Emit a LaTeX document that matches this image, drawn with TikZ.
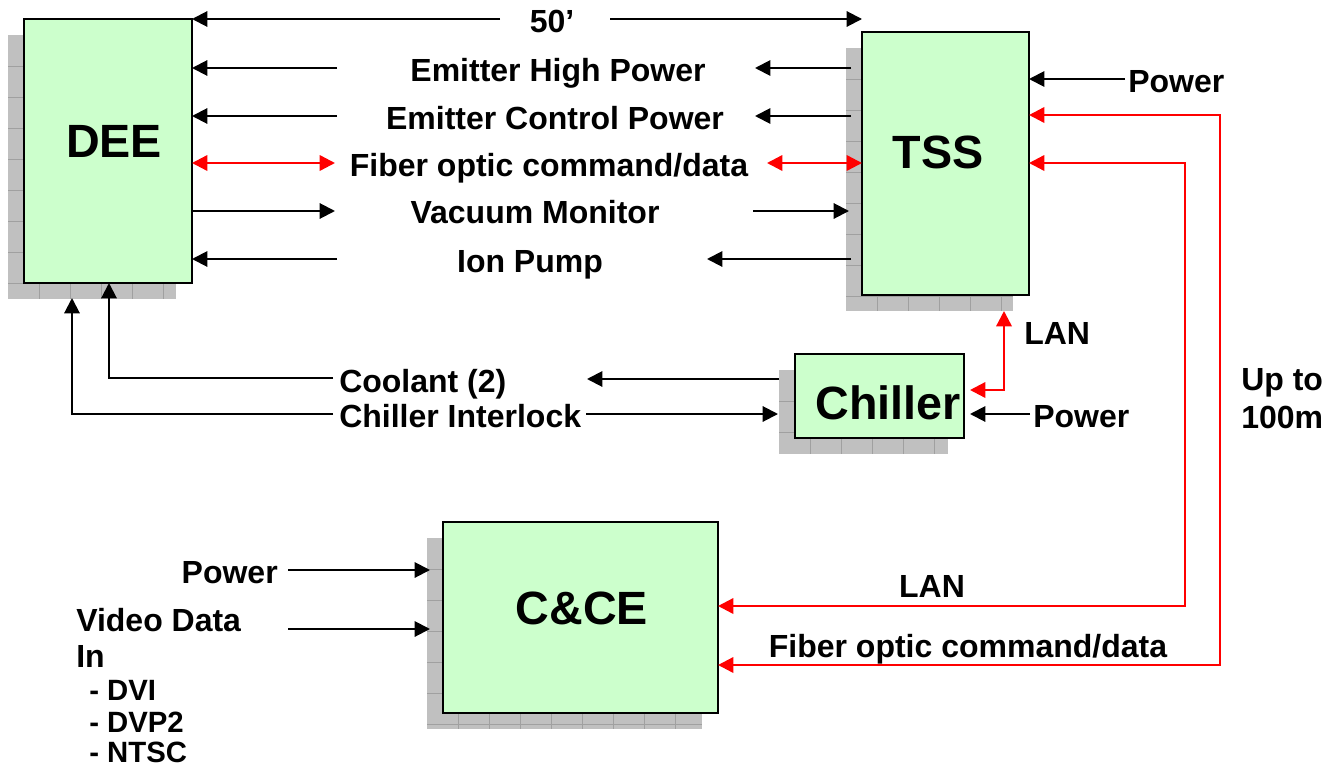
\documentclass[tikz,border=0pt]{standalone}
\usepackage{fontspec}
\setmainfont{Liberation Sans}
\usetikzlibrary{arrows.meta,fit,calc}
\definecolor{boxgreen}{HTML}{CCFFCC}
\definecolor{shadowgray}{HTML}{C0C0C0}
\definecolor{gridgray}{HTML}{A0A0A0}
\definecolor{linered}{HTML}{FF0000}
\tikzset{
  box/.style={rectangle, draw=black, line width=1.6pt, fill=boxgreen, inner sep=0pt, outer sep=0pt},
  gridline/.style={draw=gridgray, line width=0.7pt},
  arr/.style={draw=black, line width=1.5pt, -{Triangle[length=11.5pt,width=11.5pt]}},
  rarr/.style={draw=linered, line width=1.8pt, {Triangle[length=11.5pt,width=11.5pt]}-{Triangle[length=11.5pt,width=11.5pt]}},
  lbl/.style={font=\fontsize{24}{28}\selectfont\bfseries, inner sep=0pt},
  sml/.style={font=\fontsize{22}{26}\selectfont\bfseries, inner sep=0pt},
  big/.style={font=\fontsize{35}{40}\selectfont\bfseries, inner sep=0pt}
}
\newcommand{\mkshadow}[4]{%
  \begin{scope}
    \clip (#1,#2) rectangle (#3,#4);
    \fill[shadowgray] (#1,#2) rectangle (#3,#4);
    \foreach \k in {1,...,12}{%
      \draw[gridline] ({#1+31*\k},#2) -- ({#1+31*\k},#4);
      \draw[gridline] (#1,{#2+31*\k}) -- (#3,{#2+31*\k});
    }
  \end{scope}}
\begin{document}
\begin{tikzpicture}[x=0.75pt,y=-0.75pt]
\useasboundingbox (0,0) rectangle (1337,767);

% shadows
\mkshadow{8}{35}{176}{299}
\mkshadow{846}{48}{1013}{311}
\mkshadow{779}{370}{948}{454}
\mkshadow{427}{538}{702}{729}

% boxes
\node[box, fit={(24,19)(192,283)}] (dee) {};
\node[box, fit={(862,32)(1029,295)}] (tss) {};
\node[box, fit={(795,354)(964,438)}] (chiller) {};
\node[box, fit={(443,522)(718,713)}] (cce) {};

% box labels
\node[big, anchor=base] (deeL) at (114,157) {DEE};
\node[big, anchor=base] (tssL) at (938,168) {TSS};
\node[big, anchor=base] (chL) at (888,419) {Chiller};
\node[big, anchor=base] (cceL) at (582,624) {C\&CE};

% other labels
\node[lbl, anchor=base] (l50) at (552,33) {50’};
\node[lbl, anchor=base] (lehp) at (558,81) {Emitter High Power};
\node[lbl, anchor=base] (lecp) at (555,129) {Emitter Control Power};
\node[lbl, anchor=base] (lfo) at (549,176) {Fiber optic command/data};
\node[lbl, anchor=base] (lvm) at (535,223) {Vacuum Monitor};
\node[lbl, anchor=base] (lip) at (530,272) {Ion Pump};
\node[lbl, anchor=base west] (ltp) at (1128,93) {Power};
\node[lbl, anchor=base west] (llan1) at (1024,344) {LAN};
\node[lbl, anchor=base west] (lup) at (1241,390) {Up to};
\node[lbl, anchor=base west] (l100) at (1241,428) {100m};
\node[lbl, anchor=base west] (lcp) at (1033,427) {Power};
\node[lbl, anchor=base west] (lcool) at (339,392) {Coolant (2)};
\node[lbl, anchor=base west] (lci) at (339,427) {Chiller Interlock};
\node[lbl, anchor=base east] (lccp) at (278,583) {Power};
\node[lbl, anchor=base west] (lvd) at (76,631) {Video Data};
\node[lbl, anchor=base west] (lin) at (76,667) {In};
\node[sml, anchor=base west] (ldvi) at (89,700) {- DVI};
\node[sml, anchor=base west] (ldvp) at (89,732) {- DVP2};
\node[sml, anchor=base west] (lntsc) at (89,762) {- NTSC};
\node[lbl, anchor=base] (llan2) at (932,597) {LAN};
\node[lbl, anchor=base] (lfo2) at (968,657) {Fiber optic command/data};

% 50' dimension arrow
\coordinate (a50l) at (500,19);
\coordinate (a50r) at (610,19);
\draw[arr] (a50l) -- (dee.north east);
\draw[arr] (a50r) -- (tss.west |- a50r);

% DEE side
\coordinate (e1) at (337,68);
\coordinate (e2) at (337,116);
\coordinate (e3) at (335,163);
\coordinate (e4) at (335,211);
\coordinate (e5) at (337,259);
\draw[arr] (e1) -- (dee.east |- e1);
\draw[arr] (e2) -- (dee.east |- e2);
\draw[rarr] (dee.east |- e3) -- (e3);
\draw[arr] (dee.east |- e4) -- (e4);
\draw[arr] (e5) -- (dee.east |- e5);

% TSS side
\coordinate (g1) at (755,68);
\coordinate (g2) at (755,116);
\coordinate (g3) at (767,163);
\coordinate (g4) at (753,211);
\coordinate (g5) at (707,259);
\draw[arr, shorten <=8.25pt] (tss.west |- g1) -- (g1);
\draw[arr, shorten <=8.25pt] (tss.west |- g2) -- (g2);
\draw[rarr] (g3) -- (tss.west |- g3);
\draw[arr, shorten >=9.75pt] (g4) -- (tss.west |- g4);
\draw[arr, shorten <=8.25pt] (tss.west |- g5) -- (g5);

% TSS right side
\coordinate (pw1) at (1125,79);
\draw[arr] (pw1) -- (tss.east |- pw1);
\coordinate (r1) at (1220,115);
\coordinate (r1b) at (1220,665);
\draw[rarr] (tss.east |- r1) -- (r1) -- (r1b) -- (cce.east |- r1b);
\coordinate (r2) at (1185,163);
\coordinate (r2b) at (1185,606);
\draw[rarr] (tss.east |- r2) -- (r2) -- (r2b) -- (cce.east |- r2b);

% Chiller LAN and power
\coordinate (ln) at (1004,390);
\draw[rarr, shorten <=12pt, shorten >=4.5pt] (tss.south -| ln) -- (ln) -- (chiller.east |- ln);
\coordinate (cpw) at (1030,414);
\draw[arr, shorten >=4.5pt] (cpw) -- (chiller.east |- cpw);

% Chiller left side
\coordinate (co) at (587,379);
\draw[arr, shorten <=12pt] (chiller.west |- co) -- (co);
\coordinate (ci) at (586,414);
\draw[arr, shorten >=12.75pt] (ci) -- (chiller.west |- ci);

% to DEE bottom
\coordinate (cl) at (333,378);
\coordinate (clc) at (109,378);
\draw[arr] (cl) -- (clc) -- (dee.south -| clc);
\coordinate (il) at (333,414);
\coordinate (ilc) at (72,414);
\draw[arr, shorten >=11.25pt] (il) -- (ilc) -- (dee.south -| ilc);

% C&CE inputs
\coordinate (cp1) at (288,570);
\coordinate (cp2) at (288,629);
\draw[arr, shorten >=9.75pt] (cp1) -- (cce.west |- cp1);
\draw[arr, shorten >=9.75pt] (cp2) -- (cce.west |- cp2);
\end{tikzpicture}
\end{document}
